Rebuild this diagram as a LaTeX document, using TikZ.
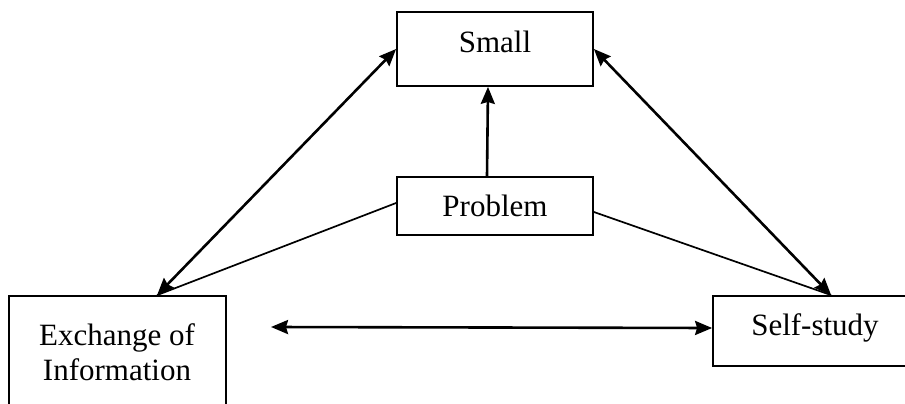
\documentclass[tikz,border=0pt]{standalone}
\usepackage{fontspec}
\setmainfont{Liberation Serif}
\usetikzlibrary{arrows.meta}
\begin{document}
\begin{tikzpicture}[x=1pt,y=-1pt,
  txt/.style={font=\fontsize{31}{35}\selectfont, inner sep=0pt},
  box/.style={txt, draw, line width=1.8pt},
  dbl/.style={line width=2.6pt, {Stealth[length=17pt,width=14pt,inset=2pt]}-{Stealth[length=17pt,width=14pt,inset=2pt]}},
  one/.style={line width=2.6pt, -{Stealth[length=17pt,width=14pt,inset=2pt]}},
  plain/.style={line width=1.7pt}]
\useasboundingbox (0,0) rectangle (905,404);
\node[box, minimum width=196pt, minimum height=74pt, text height=21pt, text depth=13pt] (small) at (495,49) {Small};
\node[box, minimum width=196pt, minimum height=58pt] (problem) at (495,206) {Problem};
\node[box, minimum width=204pt, minimum height=70pt, text height=21pt, text depth=13pt] (self) at (815,331) {Self-study};
\node[box, minimum width=217pt, minimum height=124pt] (exch) at (117.5,358) {};
\node[txt, anchor=base] (exlA) at (117,345) {Exchange of};
\node[txt, anchor=base] (exlB) at (117,380) {Information};
\coordinate (exTop) at ([xshift=149pt]exch.north west);
\coordinate (selfTop) at ([xshift=119pt]self.north west);
\coordinate (hl) at (271,327);
\draw[plain] ([yshift=3pt]problem.west) -- (exTop);
\draw[plain] ([yshift=-6pt]problem.east) -- (selfTop);
\draw[dbl] (small.west) -- (exTop);
\draw[dbl] (small.east) -- (selfTop);
\draw[one] ([xshift=-8pt]problem.north) -- ([xshift=-7pt]small.south);
\draw[dbl] (hl) -- ([yshift=3pt]self.west);
\end{tikzpicture}
\end{document}
